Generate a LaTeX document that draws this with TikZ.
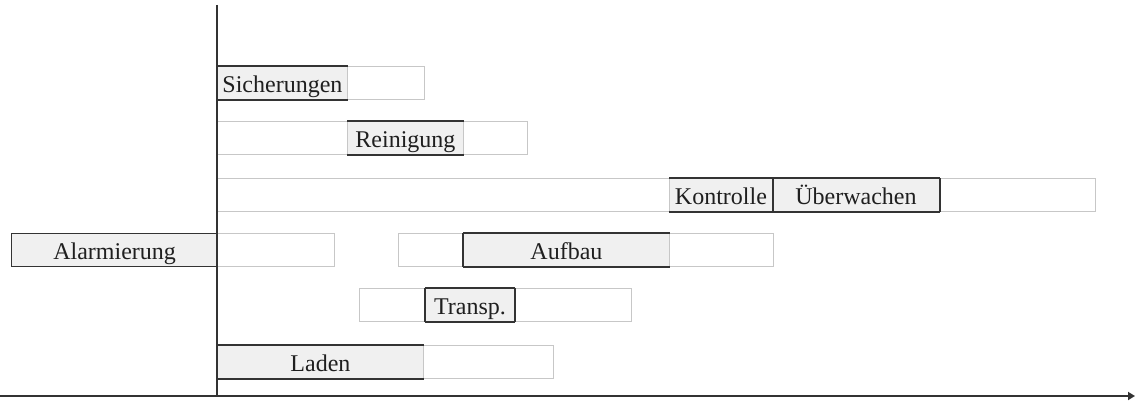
\documentclass[tikz,border=0pt]{standalone}
\usepackage{fontspec}
\setmainfont{Liberation Serif}
\usetikzlibrary{arrows.meta}
\definecolor{barfill}{gray}{0.94}
\definecolor{slotline}{gray}{0.78}
\definecolor{ink}{gray}{0.2}
\definecolor{label}{gray}{0.12}
\tikzset{
  slot/.style={draw=slotline, line width=0.9pt, fill=white, inner sep=0pt,
    anchor=north west, minimum height=33pt},
  task/.style={draw=slotline, line width=0.9pt, fill=barfill, inner sep=0pt,
    anchor=north west, minimum height=33pt, text=label,
    font=\fontsize{24}{27}\selectfont, text height=19pt, text depth=0.6pt},
  edgebar/.style={draw=ink, line width=1.6pt},
  axis/.style={draw=ink, line width=1.8pt},
}
\begin{document}
\begin{tikzpicture}[x=1pt,y=-1pt]
\useasboundingbox (0,0) rectangle (1135,401);

% time slots (light frames)
\node[slot, minimum width=207pt] (sichS)  at (217,66)  {};
\node[slot, minimum width=310pt] (reinS)  at (217,121) {};
\node[slot, minimum width=878pt] (kontS)  at (217,178) {};
\node[slot, minimum width=117pt] (alarmS) at (217,233) {};
\node[slot, minimum width=375pt] (aufbS)  at (398,233) {};
\node[slot, minimum width=272pt] (transS) at (359,288) {};
\node[slot, minimum width=336pt] (ladenS) at (217,345) {};

% tasks
\node[task, minimum width=130pt] (sich)  at (217,66)  {Sicherungen};
\node[task, minimum width=116pt] (rein)  at (347,121) {Reinigung};
\node[task, minimum width=103pt] (kont)  at (669,178) {Kontrolle};
\node[task, minimum width=167pt] (ueber) at (772,178) {Überwachen};
\node[task, minimum width=206pt, draw=ink, line width=1.3pt] (alarm) at (11,233) {Alarmierung};
\node[task, minimum width=206pt] (aufb)  at (463,233) {Aufbau};
\node[task, minimum width=89pt]  (trans) at (425,288) {Transp.};
\node[task, minimum width=206pt] (laden) at (217,345) {Laden};

% dark upper and lower edges of the task bars
\foreach \n in {sich,rein,kont,ueber,aufb,trans,laden}
  \draw[edgebar] (\n.north west) -- (\n.north east)
                 (\n.south west) -- (\n.south east);
\draw[edgebar, line width=1.2pt] (kont.north east) -- (kont.south east);
\draw[edgebar, line width=1.2pt] (ueber.north east) -- (ueber.south east);
\draw[edgebar, line width=1.2pt] (aufb.north west) -- (aufb.south west);
\draw[edgebar, line width=1.2pt] (trans.north west) -- (trans.south west);
\draw[edgebar, line width=1.2pt] (trans.north east) -- (trans.south east);

% axes
\coordinate (ytop) at (217,5);
\coordinate (orig) at (217,396);
\coordinate (xl) at (0,396);
\coordinate (xr) at (1135,396);
\draw[axis] (ytop) -- (orig);
\draw[axis, -{Triangle[length=7pt,width=8pt]}] (xl) -- (xr);
\end{tikzpicture}
\end{document}
